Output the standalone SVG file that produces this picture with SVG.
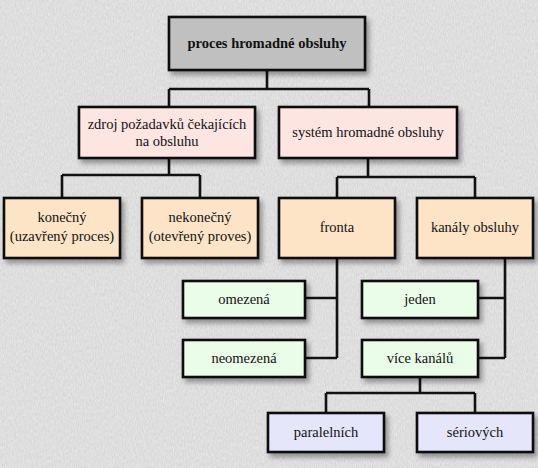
<svg xmlns="http://www.w3.org/2000/svg" width="538" height="468" viewBox="0 0 538 468">
<defs>
<filter id="tex" x="0" y="0" width="100%" height="100%">
<feTurbulence type="fractalNoise" baseFrequency="0.9 0.3" numOctaves="2" seed="3" result="n"/>
<feColorMatrix in="n" type="matrix" values="0 0 0 0 0.5  0 0 0 0 0.5  0 0 0 0 0.5  0 0 0 0.6 -0.05" result="c"/>
<feComposite in="c" in2="SourceGraphic" operator="over"/>
</filter>
<filter id="sh" x="-10%" y="-10%" width="130%" height="140%">
<feDropShadow dx="3" dy="4" stdDeviation="2.5" flood-color="#000" flood-opacity="0.35"/>
</filter>
<style>
.b{stroke:#111;stroke-width:2.6;filter:url(#sh)}
.g{fill:#c0c0c0}
.p{fill:#fde5e1}
.o{fill:#fde4c6}
.gr{fill:#eafde8}
.l{fill:#e6e6fb}
text{font-family:'Liberation Serif','Times New Roman',serif;font-size:14.5px;fill:#111;text-anchor:middle}
.bold{font-weight:bold}
.c{fill:none;stroke:#111;stroke-width:2.6}
</style>
</defs>
<rect width="538" height="468" fill="#e8e8e8" filter="url(#tex)"/>
<g id="connectors" class="c">
<path d="M267 70V89M169 89H369M169 89V107M369 89V107"/>
<path d="M169 158V175M62 175H200M62 175V198M200 175V198"/>
<path d="M368 158V177M337 177H475M337 177V198M475 177V198"/>
<path d="M337 258V358M305 298H337M305 358H337"/>
<path d="M505 258V358M478 298H505M478 358H505"/>
<path d="M420 377V393M326 393H475M326 393V413M475 393V413"/>
</g>
<g id="proces"><rect class="b g" x="169" y="17" width="196" height="53"/><text class="bold" x="267" y="48">proces hromadné obsluhy</text></g>
<g id="zdroj"><rect class="b p" x="79" y="107" width="176" height="51"/><text x="167" y="129">zdroj požadavků čekajících</text><text x="167" y="146">na obsluhu</text></g>
<g id="system"><rect class="b p" x="279" y="107" width="178" height="51"/><text x="368" y="137">systém hromadné obsluhy</text></g>
<g id="konecny"><rect class="b o" x="4" y="198" width="116" height="60"/><text x="62" y="222">konečný</text><text x="62" y="241">(uzavřený proces)</text></g>
<g id="nekonecny"><rect class="b o" x="142" y="198" width="116" height="60"/><text x="200" y="222">nekonečný</text><text x="200" y="241">(otevřený proves)</text></g>
<g id="fronta"><rect class="b o" x="279" y="198" width="116" height="60"/><text x="337" y="232">fronta</text></g>
<g id="kanaly"><rect class="b o" x="417" y="198" width="116" height="60"/><text x="475" y="232">kanály obsluhy</text></g>
<g id="omezena"><rect class="b gr" x="183" y="281" width="122" height="37"/><text x="244" y="304">omezená</text></g>
<g id="neomezena"><rect class="b gr" x="183" y="340" width="122" height="37"/><text x="244" y="363">neomezená</text></g>
<g id="jeden"><rect class="b gr" x="362" y="281" width="116" height="37"/><text x="420" y="304">jeden</text></g>
<g id="vice"><rect class="b gr" x="362" y="340" width="116" height="37"/><text x="420" y="363">více kanálů</text></g>
<g id="paralelnich"><rect class="b l" x="268" y="413" width="116" height="39"/><text x="326" y="437">paralelních</text></g>
<g id="seriovych"><rect class="b l" x="417" y="413" width="116" height="39"/><text x="475" y="437">sériových</text></g>
</svg>
